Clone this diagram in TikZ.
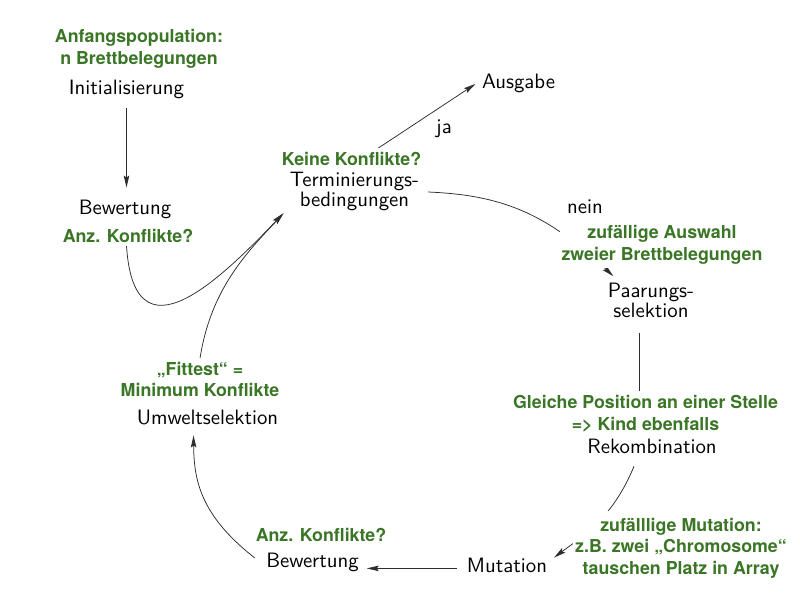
\documentclass[tikz,border=0pt]{standalone}
\usepackage{fontspec}
\newfontfamily\greenfont{TeX Gyre Heros}
\newfontfamily\stagefont{lmsans10-regular.otf}
\usetikzlibrary{arrows.meta}
\definecolor{annot}{RGB}{58,118,38}
\definecolor{linec}{RGB}{45,45,45}
\begin{document}
\begin{tikzpicture}[x=1pt,y=-1pt,
  every node/.style={inner sep=0pt, outer sep=0pt},
  stage/.style={font=\stagefont\fontsize{20.8}{18}\selectfont, align=center, anchor=base},
  note/.style={font=\greenfont\bfseries\fontsize{17.8}{21.6}\selectfont, text=annot, fill=white, align=center, anchor=base, inner xsep=2pt, inner ysep=4pt},
  flow/.style={draw=linec, line width=0.75pt, -{Stealth[length=12pt,width=5.5pt,inset=2pt]}},
  lbl/.style={font=\stagefont\fontsize{20.8}{18}\selectfont, anchor=base}]
\fill[white] (0,0) rectangle (800,600);
\useasboundingbox (0,0) rectangle (800,600);

% main stages (anchor base = baseline of the last line)
\node[stage] (init) at (126.5,94) {Initialisierung};
\node[stage] (bew1) at (125,214) {Bewertung};
\node[stage] (term) at (354.5,206.5) {Terminierungs-\\bedingungen};
\node[stage] (ausg) at (518.5,88) {Ausgabe};
\node[stage] (paar) at (651,317) {Paarungs-\\selektion};
\node[stage] (rekomb) at (652,453) {Rekombination};
\node[stage] (mut) at (507,572) {Mutation};
\node[stage] (bew2) at (312.5,567) {Bewertung};
\node[stage] (umwelt) at (207.5,424) {Umweltselektion};

% edge labels
\node[lbl] (ja) at (444,133) {ja};
\node[lbl] (nein) at (585,213) {nein};

% connectors
\draw[flow, shorten <=10pt, shorten >=12pt] (init.south) -- (init.south |- bew1.north);
\draw[flow] ([shift={(1,10)}]bew1.south) .. controls (126,370) and (215,285) .. ([shift={(-6.5,2.5)}]term.south west);
\draw[flow] ([shift={(-10.5,-10)}]umwelt.north) .. controls (197,300) and (245,255) .. ([shift={(-6.5,2.5)}]term.south west);
\draw[flow] ([shift={(5,-12)}]term.north) -- ([shift={(-6.5,1)}]ausg.west);
\draw[flow, shorten <=9pt] (term.east) .. controls (500,195) and (545,212) .. ([shift={(5.4,-6.6)}]paar.north west);
\draw[flow, shorten <=16pt, shorten >=5pt] ([xshift=-12pt]paar.south) coordinate (pr) -- (pr |- rekomb.north);
\draw[flow] ([shift={(-18,13)}]rekomb.south) .. controls (612,520) and (580,538) .. ([shift={(7,0)}]mut.north east);
\draw[flow, shorten >=8pt] ([shift={(-10,3.5)}]mut.west) coordinate (ms) -- (ms -| bew2.east);
\draw[flow] ([shift={(-11.5,-4)}]bew2.west) .. controls (200,515) and (194,480) .. ([shift={(-14,11)}]umwelt.south);

% annotations (anchor base = baseline of the last line)
\node[note] (ginit) at (139,64.5) {Anfangspopulation:\\n Brettbelegungen};
\node[note] (gbew1) at (128,242) {Anz. Konflikte?};
\node[note] (gterm) at (351.5,165.5) {Keine Konflikte?};
\node[note] (gpaar) at (662,260) {zufällige Auswahl\\zweier Brettbelegungen};
\node[note] (grek) at (645.5,430) {Gleiche Position an einer Stelle\\=> Kind ebenfalls};
\node[note, inner ysep=7pt] (gmut) at (681,574.3) {zufälllige Mutation:\\z.B. zwei „Chromosome“\\tauschen Platz in Array};
\node[note] (gbew2) at (321,541.7) {Anz. Konflikte?};
\node[note] (gumw) at (200,396.7) {„Fittest“ =\\Minimum Konflikte};
\end{tikzpicture}
\end{document}
